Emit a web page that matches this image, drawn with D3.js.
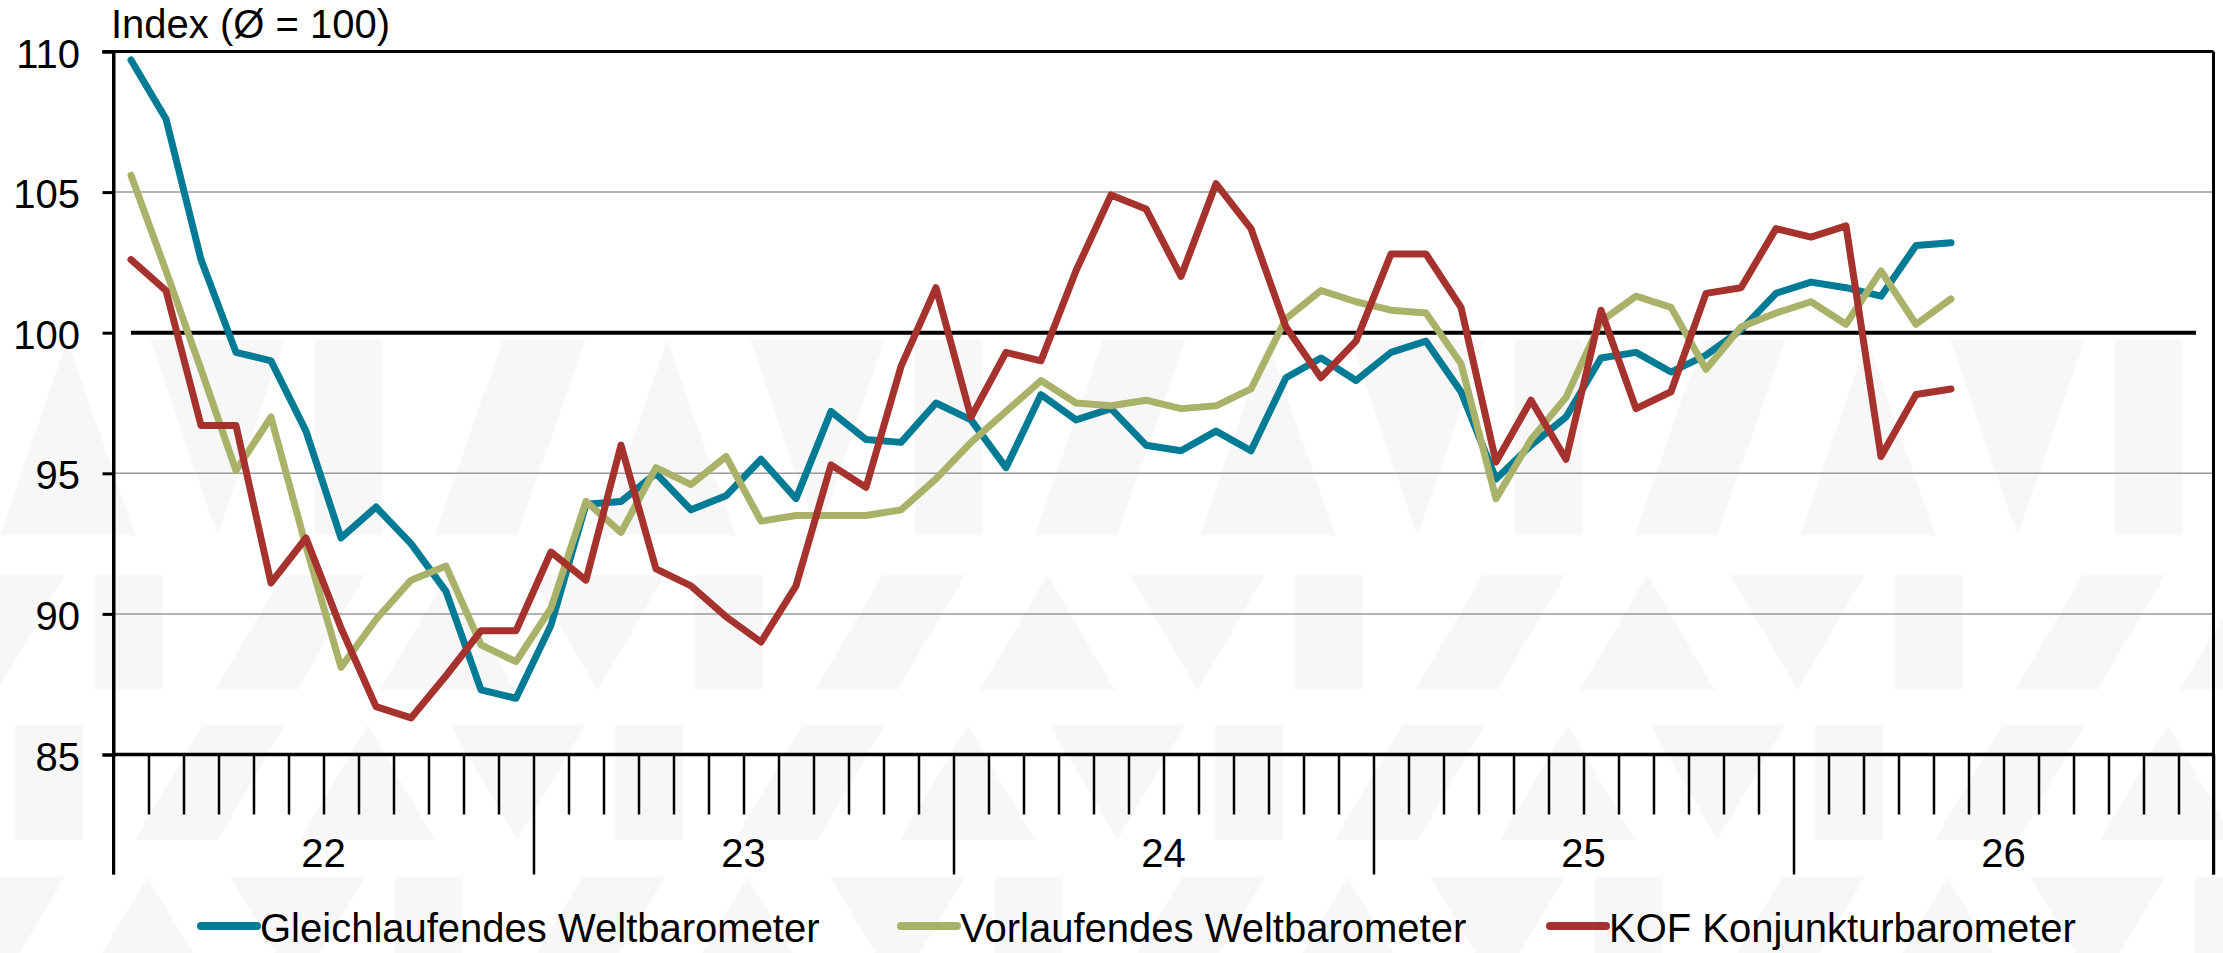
<!DOCTYPE html>
<html>
<head>
<meta charset="utf-8">
<script src="https://cdn.jsdelivr.net/npm/d3@7"></script>
<style>
  body { margin: 0; background: #fff; }
  svg { display: block; font-family: "Liberation Sans", Arial, sans-serif; }
</style>
</head>
<body>
<div id="chart"></div>
<script>
// monthly values, Jan 2022 .. May 2026
var gleichlaufend = [109.7, 107.6, 102.6, 99.3, 99.0, 96.5, 92.7, 93.8, 92.5, 90.8, 87.3, 87.0,
  89.6, 93.9, 94.0, 95.0, 93.7, 94.2, 95.5, 94.1, 97.2, 96.2, 96.1, 97.5,
  96.9, 95.2, 97.8, 96.9, 97.3, 96.0, 95.8, 96.5, 95.8, 98.4, 99.1, 98.3,
  99.3, 99.7, 97.9, 94.8, 96.0, 97.0, 99.1, 99.3, 98.6, 99.2, 100.1, 101.4,
  101.8, 101.6, 101.3, 103.1, 103.2];
var vorlaufend = [105.6, 102.2, 98.7, 95.1, 97.0, 92.4, 88.1, 89.8, 91.2, 91.7, 88.9, 88.3,
  90.2, 94.0, 92.9, 95.2, 94.6, 95.6, 93.3, 93.5, 93.5, 93.5, 93.7, 94.8,
  96.1, 97.2, 98.3, 97.5, 97.4, 97.6, 97.3, 97.4, 98.0, 100.5, 101.5, 101.1,
  100.8, 100.7, 98.9, 94.1, 96.2, 97.7, 100.4, 101.3, 100.9, 98.7, 100.2, 100.7,
  101.1, 100.3, 102.2, 100.3, 101.2];
var kof = [102.6, 101.5, 96.7, 96.7, 91.1, 92.7, 89.5, 86.7, 86.3, 87.8, 89.4, 89.4,
  92.2, 91.2, 96.0, 91.6, 91.0, 89.9, 89.0, 91.0, 95.3, 94.5, 98.8, 101.6,
  97.0, 99.3, 99.0, 102.2, 104.9, 104.4, 102.0, 105.3, 103.7, 100.2, 98.4, 99.7,
  102.8, 102.8, 100.9, 95.4, 97.6, 95.5, 100.8, 97.3, 97.9, 101.4, 101.6, 103.7,
  103.4, 103.8, 95.6, 97.8, 98.0];

var years = ["22", "23", "24", "25", "26"];
var yTicks = [85, 90, 95, 100, 105, 110];
var gridValues = [90, 95, 105];
var seriesNames = ["Gleichlaufendes Weltbarometer", "Vorlaufendes Weltbarometer", "KOF Konjunkturbarometer"];
var seriesColors = ["#007b95", "#aab26a", "#a6322e"];

var chartW = 2223, chartH = 953;
var plotLeft = 113.5, plotRight = 2213.5, plotTop = 51.5, plotBottom = 754.5;
var nMonths = years.length * 12;

var svg = d3.select("#chart").append("svg")
  .attr("width", chartW)
  .attr("height", chartH);

var x = d3.scaleLinear().domain([0, nMonths]).range([plotLeft, plotRight]);
var y = d3.scaleLinear().domain([85, 110]).range([plotBottom, plotTop]);

//faint background watermark (decoration only)
var bands = [[340, 535], [575, 690], [725, 840], [877, 990]];
var wm = svg.append("g").attr("fill", "#f7f7f7");
bands.forEach(function(b, bi){
  var w = 150;
  for(var k = 0; k * w < chartW + w; k++){
    var x0 = k * w - (bi % 2) * 70;
    var kind = (k + bi) % 4;
    var pts;
    if(kind == 0) pts = [[x0, b[1]], [x0 + w * 0.45, b[0]], [x0 + w * 0.9, b[1]]];
    else if(kind == 1) pts = [[x0, b[0]], [x0 + w * 0.9, b[0]], [x0 + w * 0.45, b[1]]];
    else if(kind == 2) pts = [[x0 + w * 0.1, b[0]], [x0 + w * 0.55, b[0]], [x0 + w * 0.55, b[1]], [x0 + w * 0.1, b[1]]];
    else pts = [[x0 + w * 0.35, b[0]], [x0 + w * 0.9, b[0]], [x0 + w * 0.45, b[1]], [x0 - w * 0.1, b[1]]];
    wm.append("polygon").attr("points", pts.map(function(p){ return p.join(","); }).join(" "));
  }
});

//gridlines
svg.append("g").selectAll("line")
  .data(gridValues)
  .join("line")
  .attr("x1", plotLeft).attr("x2", plotRight)
  .attr("y1", d => y(d)).attr("y2", d => y(d))
  .attr("stroke", "#9a9a9a")
  .attr("stroke-width", 1.5);

//top and right frame
svg.append("line").attr("x1", plotLeft - 11).attr("x2", plotRight).attr("y1", y(110)).attr("y2", y(110))
  .attr("stroke", "#000").attr("stroke-width", 3);
svg.append("line").attr("x1", plotRight).attr("x2", plotRight).attr("y1", y(110)).attr("y2", plotBottom + 120)
  .attr("stroke", "#000").attr("stroke-width", 3);

//y axis
var yAxis = svg.append("g")
  .attr("transform", `translate(${plotLeft},0)`)
  .call(d3.axisLeft(y).tickValues(yTicks).tickSize(11).tickFormat(""));
yAxis.selectAll("path, line").attr("stroke", "#000").attr("stroke-width", 3);
svg.append("line").attr("x1", plotLeft).attr("x2", plotLeft).attr("y1", plotTop).attr("y2", plotBottom + 120)
  .attr("stroke", "#000").attr("stroke-width", 3);
svg.append("g").selectAll("text")
  .data(yTicks)
  .join("text")
  .attr("x", 80)
  .attr("y", d => y(d) + 16)
  .attr("text-anchor", "end")
  .attr("font-size", 40)
  .text(d => d);

svg.append("text")
  .attr("x", 111).attr("y", 38)
  .attr("font-size", 40)
  .text("Index (Ø = 100)");

//x axis: month ticks and year ticks
var monthTicks = d3.range(1, nMonths).filter(i => i % 12 != 0);
var xMinor = svg.append("g")
  .attr("transform", `translate(0,${plotBottom})`)
  .call(d3.axisBottom(x).tickValues(monthTicks).tickSize(60).tickFormat(""));
xMinor.select(".domain").remove();
xMinor.selectAll("line").attr("stroke", "#000").attr("stroke-width", 2.5);

var xMajor = svg.append("g")
  .attr("transform", `translate(0,${plotBottom})`)
  .call(d3.axisBottom(x).tickValues(d3.range(0, nMonths + 1, 12)).tickSize(120).tickFormat(""));
xMajor.select(".domain").remove();
xMajor.selectAll("line").attr("stroke", "#000").attr("stroke-width", 2.5);

svg.append("line").attr("x1", plotLeft).attr("x2", plotRight).attr("y1", plotBottom).attr("y2", plotBottom)
  .attr("stroke", "#000").attr("stroke-width", 3.5);

svg.append("g").selectAll("text")
  .data(years)
  .join("text")
  .attr("x", (d, i) => x(i * 12 + 6))
  .attr("y", 867)
  .attr("text-anchor", "middle")
  .attr("font-size", 40)
  .text(d => d);

//100 reference line across all months
var allMonths = d3.range(nMonths);
svg.append("path")
  .datum(allMonths)
  .attr("fill", "none")
  .attr("stroke", "#000")
  .attr("stroke-width", 4)
  .attr("d", d3.line().x(i => x(i + 0.5)).y(() => y(100)));

//series lines
var line = d3.line()
  .x((d, i) => x(i + 0.5))
  .y(d => y(d));

[gleichlaufend, vorlaufend, kof].forEach(function(values, k){
  svg.append("path")
    .datum(values)
    .attr("fill", "none")
    .attr("stroke", seriesColors[k])
    .attr("stroke-width", 7)
    .attr("stroke-linejoin", "round")
    .attr("stroke-linecap", "round")
    .attr("d", line);
});

//legend
var legendX = [201, 901, 1550];
var legend = svg.append("g");
seriesNames.forEach(function(name, k){
  legend.append("line")
    .attr("x1", legendX[k]).attr("x2", legendX[k] + 56)
    .attr("y1", 926).attr("y2", 926)
    .attr("stroke", seriesColors[k])
    .attr("stroke-width", 8)
    .attr("stroke-linecap", "round");
  legend.append("text")
    .attr("x", legendX[k] + 59)
    .attr("y", 942)
    .attr("font-size", 40)
    .text(name);
});
</script>
</body>
</html>
